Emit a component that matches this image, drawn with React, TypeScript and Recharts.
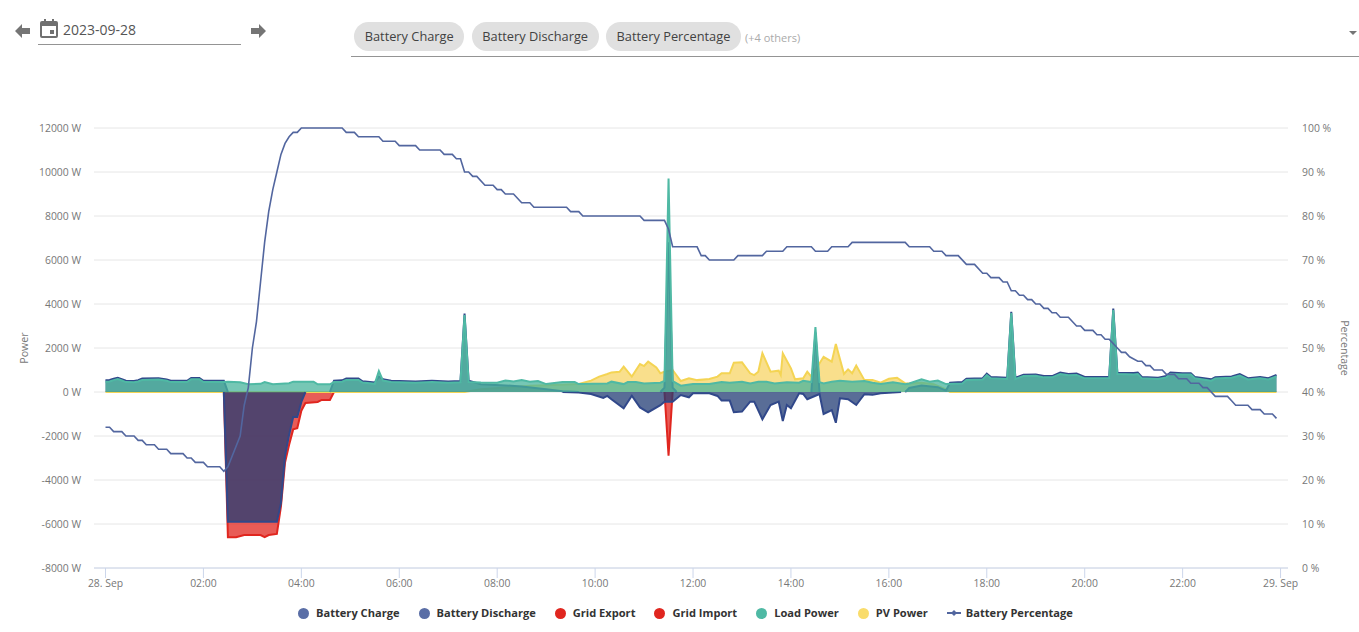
import React from 'react';
import { ComposedChart, Area, Line, XAxis, YAxis, CartesianGrid } from 'recharts';

// every series is a list of [5-minute slot of the day, value]
const chargeKnots: [number, number | null][] = [
  [28, null], [29, 0], [30, -5900], [42, -5900], [43, -5050], [44, -2900], [45, -1950], [46, -1140], [47, -1140], [48, -450], [49, 0], [50, null],
  [111, null], [112, 0], [116, -20], [119, -90], [122, -270], [123, -180], [124, -330], [127, -740], [129, -170], [131, -700], [133, -920], [136, -600],
  [137, -440], [139, -440], [141, -140], [143, -240], [144, -60], [148, -60], [150, -180], [151, -390], [153, -390], [154, -920], [156, -890], [158, -440],
  [159, -440], [161, -1240], [163, -590], [165, -440], [166, -1320], [167, -590], [168, -740], [170, -60], [171, -90], [172, -330], [175, -90], [176, -1000],
  [178, -820], [179, -1400], [180, -290], [182, -330], [184, -590], [186, -100], [188, -130], [190, -60], [192, -30], [195, 0],
];
const dischargeKnots: [number, number | null][] = [
  [0, 530], [1, 550], [2, 600], [3, 650], [4, 580], [5, 510], [7, 500], [8, 540], [9, 610], [13, 630], [15, 570], [16, 510], [20, 510], [21, 640], [23, 640],
  [24, 510], [29, 510], [30, 0], [31, null], [54, null], [55, 0], [56, 510], [58, 530], [59, 610], [62, 610], [63, 490], [66, 430], [67, 700], [68, 580], [70, 510],
  [72, 500], [76, 480], [80, 510], [84, 480], [87, 500], [88, 3570], [89, 510], [92, 350], [98, 300], [102, 250], [108, 120], [112, 30], [116, 0], [117, null],
  [135, null], [136, 0], [137, 200], [138, 6800], [139, 200], [140, 0], [141, null], [172, null], [173, 0], [174, 2700], [175, 0], [176, null],
  [195, null], [196, 0], [197, 180], [200, 300], [204, 220], [206, 60], [207, 420], [210, 450], [211, 605], [215, 630], [216, 830], [217, 680], [221, 650],
  [222, 3650], [223, 650], [225, 785], [228, 800], [230, 725], [232, 725], [234, 880], [236, 820], [238, 835], [240, 680], [246, 680], [247, 3790], [248, 880],
  [252, 860], [253, 880], [254, 680], [258, 650], [260, 725], [261, 880], [264, 850], [266, 850], [267, 680], [271, 575], [272, 670], [276, 710], [278, 810],
  [280, 630], [283, 680], [285, 630], [287, 770],
];
const exportKnots: [number, number | null][] = [[0, 0], [287, 0]];
const importKnots: [number, number | null][] = [
  [1, null], [2, -40], [3, null], [15, null], [16, -40], [17, null], [18, null], [19, -40], [20, null], [26, null], [27, -40], [28, null],
  [29, 0], [30, -6600], [32, -6600], [34, -6500], [38, -6500], [39, -6600], [40, -6500], [42, -6450], [43, -5200], [44, -3200], [45, -2400], [46, -1700],
  [47, -1650], [48, -850], [49, -500], [52, -450], [53, -360], [55, -360], [56, 0], [57, null], [66, null], [67, -40], [68, null],
  [136, null], [137, 0], [138, -2900], [139, 0], [140, null], [206, null], [207, -40], [208, null], [212, null], [213, -40], [214, null], [223, null], [224, -40], [225, null],
  [248, null], [249, -110], [250, null], [255, null], [256, -40], [257, null], [269, null], [270, -40], [271, null], [273, null], [274, -60], [275, null],
];
const loadKnots: [number, number | null][] = [
  [0, 470], [1, 480], [2, 540], [3, 590], [4, 520], [5, 450], [7, 440], [8, 480], [9, 550], [13, 570], [15, 510], [16, 450], [20, 450], [21, 580], [23, 580], [24, 450],
  [29, 450], [30, 470], [33, 440], [35, 350], [38, 370], [39, 450], [41, 350], [45, 400], [46, 470], [51, 470], [52, 350], [55, 350], [56, 450], [58, 470], [59, 550],
  [62, 550], [63, 430], [66, 370], [67, 950], [68, 520], [70, 450], [72, 440], [76, 420], [80, 450], [84, 420], [87, 440], [88, 3500], [89, 450], [92, 430], [96, 420],
  [98, 520], [100, 480], [102, 540], [104, 470], [106, 500], [108, 360], [112, 450], [115, 450], [116, 360], [123, 390], [124, 470], [127, 360], [128, 450], [130, 450],
  [132, 390], [136, 420], [137, 500], [138, 9700], [139, 500], [140, 390], [141, 290], [144, 360], [148, 360], [151, 450], [153, 420], [156, 470], [158, 390], [160, 470],
  [162, 470], [164, 390], [167, 440], [170, 420], [171, 510], [173, 450], [174, 2950], [175, 450], [176, 390], [178, 470], [180, 510], [183, 470], [186, 500], [188, 420],
  [190, 360], [193, 440], [196, 350], [197, 390], [200, 575], [202, 470], [204, 520], [206, 360], [210, 390], [211, 545], [215, 570], [216, 770], [217, 620], [221, 590],
  [222, 3590], [223, 590], [225, 725], [228, 740], [230, 665], [232, 665], [234, 820], [236, 760], [238, 775], [240, 620], [246, 620], [247, 3730], [248, 820], [252, 800],
  [253, 820], [254, 620], [258, 590], [260, 665], [261, 820], [264, 790], [266, 790], [267, 620], [271, 515], [272, 610], [276, 650], [278, 750], [280, 570], [283, 620],
  [285, 570], [287, 710],
];
const pvKnots: [number, number | null][] = [
  [0, 0], [88, 0], [92, 120], [98, 200], [104, 280], [110, 320], [116, 360], [119, 515], [121, 700], [123, 820], [124, 890], [126, 920], [127, 1150], [129, 700], [131, 1270],
  [132, 1180], [133, 1380], [135, 1120], [136, 850], [137, 920], [139, 1000], [141, 500], [143, 620], [145, 540], [148, 590], [150, 700], [151, 850], [153, 850], [154, 1330],
  [156, 1350], [158, 850], [159, 770], [160, 920], [161, 1760], [163, 920], [165, 970], [165.5, 770], [166, 1760], [168, 1075], [169, 575], [171, 620], [172, 920], [173, 700],
  [176, 1600], [178, 1380], [179, 2180], [181, 820], [182, 1030], [183, 850], [184, 1200], [186, 540], [188, 540], [190, 420], [192, 600], [194, 650], [196, 390], [198, 400],
  [200, 420], [203, 350], [206, 120], [207, 0], [287, 0],
];
const percentKnots: [number, number | null][] = [
  [0, 32], [1, 32], [2, 31], [4, 31], [5, 30], [7, 30], [8, 29], [9, 29], [10, 28], [12, 28], [13, 27], [15, 27], [16, 26], [19, 26], [20, 25], [21, 25], [22, 24], [24, 24], [25, 23], [28, 23], [29, 22],
  [30, 23], [33, 30], [34, 37], [35, 41], [36, 50], [37, 56], [38, 65], [39, 74], [40, 81], [41, 86], [42, 90], [43, 94], [44, 96.5], [45, 98], [46, 99], [47, 99], [48, 100],
  [58, 100], [59, 99], [61, 99], [62, 98], [67, 98], [68, 97], [71, 97], [72, 96], [76, 96], [77, 95], [82, 95], [83, 94], [85, 94], [86, 93], [87, 93], [88, 90], [89, 90], [90, 89], [91, 89], [93, 87], [95, 87],
  [96, 86], [97, 86], [98, 85], [100, 85], [102, 83], [104, 83], [105, 82], [113, 82], [114, 81], [116, 81], [117, 80], [131, 80], [132, 79], [137, 79], [138, 77], [139, 73], [145, 73], [146, 71], [147, 71], [148, 70],
  [154, 70], [155, 71], [161, 71], [162, 72], [166, 72], [167, 73], [173, 73], [174, 72], [177, 72], [178, 73], [182, 73], [183, 74], [196, 74], [197, 73], [202, 73], [203, 72], [205, 72], [206, 71], [209, 71], [211, 69],
  [213, 69], [215, 67], [216, 67], [217, 66], [219, 66], [220, 65], [221, 65], [222, 63], [223, 63], [224, 62], [225, 62], [226, 61], [227, 61], [228, 60], [229, 60], [230, 59], [231, 59], [232, 58], [233, 58], [234, 57],
  [236, 57], [238, 55], [239, 55], [240, 54], [242, 54], [243, 53], [244, 53], [245, 52], [246, 52], [247, 51], [248, 50], [249, 49], [250, 49], [251, 48], [253, 47], [254, 47], [255, 46], [256, 46], [257, 45], [259, 45],
  [260, 44], [262, 44], [263, 43], [265, 43], [266, 42], [268, 42], [269, 41], [270, 41], [271, 40], [272, 39], [275, 39], [276, 38], [277, 37], [280, 37], [281, 36], [283, 36], [284, 35], [286, 35], [287, 34],
];

const hourTicks = [0, 2, 4, 6, 8, 10, 12, 14, 16, 18, 20, 22, 24];
const powerTicks = [-8000, -6000, -4000, -2000, 0, 2000, 4000, 6000, 8000, 10000, 12000];
const percentTicks = [0, 10, 20, 30, 40, 50, 60, 70, 80, 90, 100];
const chips = ['Battery Charge', 'Battery Discharge', 'Battery Percentage'];

const BLUE = '#223c74';
const RED = '#e0261f';
const TEAL = '#48b49c';
const YELLOW = '#f7d465';
const PERCENT_LINE = '#52669f';

const legendItems = [
  { name: 'Battery Charge', color: '#5a6ea6' },
  { name: 'Battery Discharge', color: '#5a6ea6' },
  { name: 'Grid Export', color: RED },
  { name: 'Grid Import', color: RED },
  { name: 'Load Power', color: '#4fb9a4' },
  { name: 'PV Power', color: '#f9dc6b' },
];

const toPoints = (knots: [number, number | null][]) => knots.map(([slot, value]) => ({ hour: slot / 12, value }));

const hourLabel = (h: number) => {
  if (h === 0) return '28. Sep';
  if (h === 24) return '29. Sep';
  return String(h).padStart(2, '0') + ':00';
};

const FONT = '"Open Sans", sans-serif';
const axisTick = { fill: '#777777', fontSize: 10.4, fontFamily: FONT };
const titleStyle = { fill: '#777777', fontSize: 10.6, fontFamily: FONT, textAnchor: 'middle' as const };
const areaProps = { yAxisId: 'power', dataKey: 'value', type: 'linear' as const, fillOpacity: 0.75, strokeWidth: 2, dot: false, activeDot: false, isAnimationActive: false };

function Arrow({ left, flip }: { left: number; flip?: boolean }) {
  return (
    <svg width="16" height="14" viewBox="0 0 16 14" style={{ position: 'absolute', left, top: 24, transform: flip ? 'scaleX(-1)' : undefined }}>
      <path d="M0 7 L7 0 L7 4 L15 4 L15 10 L7 10 L7 14 Z" fill="#757575" />
    </svg>
  );
}

export default function App() {
  return (
    <div style={{ position: 'absolute', left: 0, top: 0, width: 1359, height: 632, overflow: 'hidden', background: '#fff', fontFamily: FONT }}>
      <Arrow left={15} />
      <svg width="18" height="19" viewBox="0 0 18 19" style={{ position: 'absolute', left: 40, top: 19 }}>
        <path d="M4 0h2v2h6V0h2v2h2a2 2 0 0 1 2 2v13a2 2 0 0 1-2 2H2a2 2 0 0 1-2-2V4a2 2 0 0 1 2-2h2zM2 7v10h14V7zM10 11h4v4h-4z" fill="#707070" fillRule="evenodd" />
      </svg>
      <div style={{ position: 'absolute', left: 63, top: 20, fontSize: 14, lineHeight: '20px', color: '#555' }}>2023-09-28</div>
      <div style={{ position: 'absolute', left: 38, top: 44, width: 203, height: 1, background: '#949494' }} />
      <Arrow left={250} flip />

      <div style={{ position: 'absolute', left: 354, top: 22, display: 'flex', gap: 7.2 }}>
        {chips.map((c) => (
          <div key={c} style={{ height: 29, lineHeight: '29px', padding: '0 10.7px', borderRadius: 15, background: '#e0e0e0', color: '#424242', fontSize: 12.8 }}>{c}</div>
        ))}
      </div>
      <div style={{ position: 'absolute', left: 745, top: 30, fontSize: 11, lineHeight: '15px', color: '#aaaaaa' }}>(+4 others)</div>
      <div style={{ position: 'absolute', left: 351, top: 56, width: 1008, height: 1, background: '#949494' }} />
      <svg width="8" height="4" style={{ position: 'absolute', left: 1349, top: 31 }}><path d="M0 0 L8 0 L4 4 Z" fill="#757575" /></svg>

      <ComposedChart width={1359} height={632} margin={{ top: 128, right: 0, bottom: 34, left: 0 }} style={{ position: 'absolute', left: 0, top: 0 }}>
        <CartesianGrid yAxisId="power" stroke="#e6e6e6" vertical={false} />
        <XAxis
          dataKey="hour"
          type="number"
          domain={[-0.235, 24.152]}
          allowDataOverflow
          ticks={hourTicks}
          tickFormatter={hourLabel}
          tick={axisTick}
          height={30}
          tickSize={10}
          tickMargin={2}
          interval={0}
          stroke="#ccd6eb"
        />
        <YAxis
          yAxisId="power"
          width={94}
          domain={[-8000, 12000]}
          ticks={powerTicks}
          tickFormatter={(v: number) => v + ' W'}
          tick={axisTick}
          tickLine={false}
          axisLine={false}
          tickSize={0}
          tickMargin={13}
          interval={0}
          label={{ value: 'Power', angle: -90, position: 'insideLeft', dx: 19, style: titleStyle }}
        />
        <YAxis
          yAxisId="percent"
          orientation="right"
          width={71}
          domain={[0, 100]}
          ticks={percentTicks}
          tickFormatter={(v: number) => v + ' %'}
          tick={axisTick}
          tickLine={false}
          axisLine={false}
          tickSize={0}
          tickMargin={14}
          interval={0}
          label={{ value: 'Percentage', angle: 90, position: 'insideRight', dx: -9, style: titleStyle }}
        />
        <Area {...areaProps} name="Grid Import" data={toPoints(importKnots)} fill={RED} stroke={RED} />
        <Area {...areaProps} name="Grid Export" data={toPoints(exportKnots)} fill={RED} stroke="none" />
        <Area {...areaProps} name="PV Power" data={toPoints(pvKnots)} fill={YELLOW} stroke="#f4d454" />
        <Area {...areaProps} name="Battery Charge" data={toPoints(chargeKnots)} fill={BLUE} stroke="#31488a" />
        <Line yAxisId="percent" name="Battery Percentage" data={toPoints(percentKnots)} dataKey="value" type="linear" stroke={PERCENT_LINE} strokeWidth={1.6} dot={false} activeDot={false} isAnimationActive={false} />
        <Area {...areaProps} name="Battery Discharge" data={toPoints(dischargeKnots)} fill={BLUE} fillOpacity={0.62} stroke="#31488a" />
        <Area {...areaProps} name="Load Power" data={toPoints(loadKnots)} fill={TEAL} stroke="#4fb9a4" />
      </ComposedChart>

      <div style={{ position: 'absolute', left: 298, top: 605, height: 16, display: 'flex', alignItems: 'center', color: '#333', fontSize: 11.1, fontWeight: 700, lineHeight: '16px' }}>
        {legendItems.map((it) => (
          <div key={it.name} style={{ display: 'flex', alignItems: 'center', marginRight: 19 }}>
            <span style={{ width: 11, height: 11, borderRadius: '50%', background: it.color, marginRight: 7 }} />
            {it.name}
          </div>
        ))}
        <div style={{ display: 'flex', alignItems: 'center' }}>
          <svg width="14" height="8" style={{ marginRight: 5 }}>
            <path d="M0 4 H14" stroke={PERCENT_LINE} strokeWidth="2" />
            <path d="M7 1 L10 4 L7 7 L4 4 Z" fill={PERCENT_LINE} />
          </svg>
          Battery Percentage
        </div>
      </div>
    </div>
  );
}
